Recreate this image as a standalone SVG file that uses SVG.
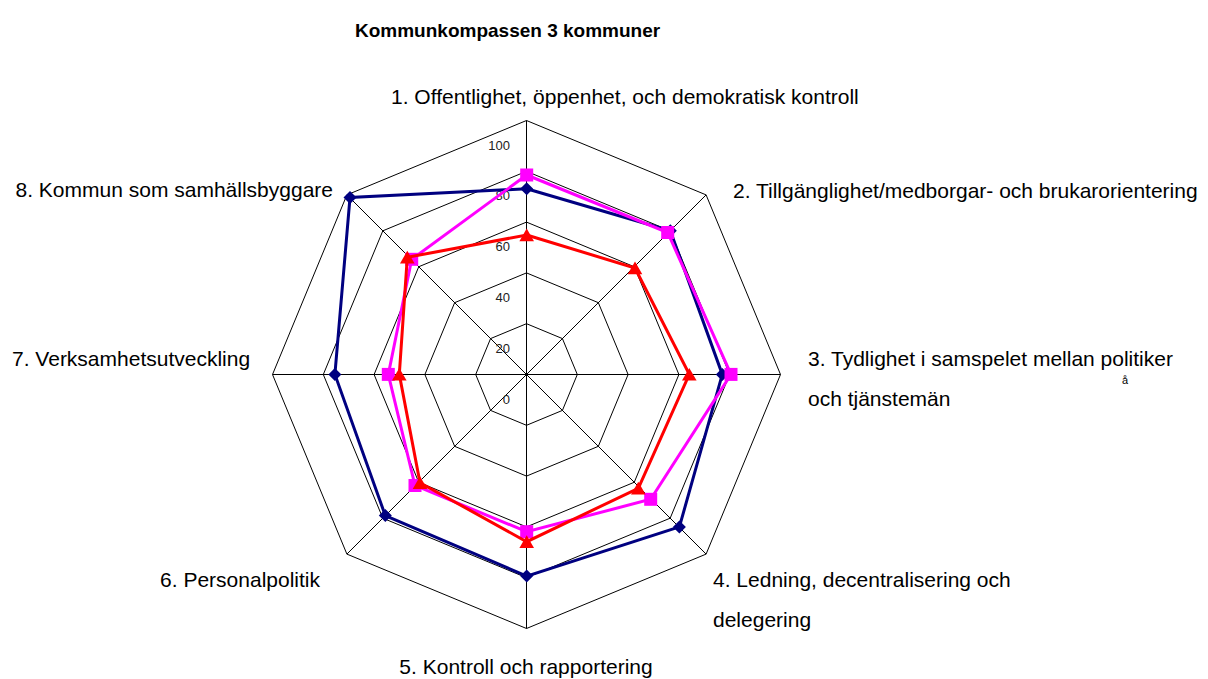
<svg xmlns="http://www.w3.org/2000/svg" width="1208" height="679" viewBox="0 0 1208 679">
<style>
.grid{fill:none;stroke:#000;stroke-width:1}
.lbl{font-family:"Liberation Sans",Arial,sans-serif;font-size:21px;fill:#000}
.tick{font-family:"Liberation Sans",Arial,sans-serif;font-size:13px;fill:#222;text-anchor:end}
.title{font-family:"Liberation Sans",Arial,sans-serif;font-size:19px;font-weight:bold;fill:#000}
.s{fill:none;stroke-width:3;stroke-linejoin:miter}
</style>
<defs>
<marker id="mDia" viewBox="-7 -7 14 14" refX="0" refY="0" markerWidth="14" markerHeight="14" markerUnits="userSpaceOnUse">
<path d="M0,-6.5 L6.5,0 L0,6.5 L-6.5,0 Z" fill="#000080"/>
</marker>
<marker id="mSq" viewBox="-7 -7 14 14" refX="0" refY="0" markerWidth="14" markerHeight="14" markerUnits="userSpaceOnUse">
<rect x="-6.5" y="-6.5" width="13" height="13" fill="#FF00FF"/>
</marker>
<marker id="mTri" viewBox="-8 -8 16 16" refX="0" refY="0" markerWidth="16" markerHeight="16" markerUnits="userSpaceOnUse">
<path d="M0,-6.5 L7.3,6.2 L-7.3,6.2 Z" fill="#FF0000"/>
</marker>
</defs>
<rect width="1208" height="679" fill="#fff"/>
<text class="title" x="355" y="36.5">Kommunkompassen 3 kommuner</text>
<g id="grid">
<polygon class="grid" points="526.5,323.7 562.42,338.58 577.3,374.5 562.42,410.42 526.5,425.3 490.58,410.42 475.7,374.5 490.58,338.58"/>
<polygon class="grid" points="526.5,272.9 598.34,302.66 628.1,374.5 598.34,446.34 526.5,476.1 454.66,446.34 424.9,374.5 454.66,302.66"/>
<polygon class="grid" points="526.5,222.1 634.26,266.74 678.9,374.5 634.26,482.26 526.5,526.9 418.74,482.26 374.1,374.5 418.74,266.74"/>
<polygon class="grid" points="526.5,171.3 670.18,230.82 729.7,374.5 670.18,518.18 526.5,577.7 382.82,518.18 323.3,374.5 382.82,230.82"/>
<polygon class="grid" points="526.5,120.5 706.1,194.9 780.5,374.5 706.1,554.1 526.5,628.5 346.9,554.1 272.5,374.5 346.9,194.9"/>
<path class="grid" d="M526.5,374.5 L526.5,120.5 M526.5,374.5 L706.1,194.9 M526.5,374.5 L780.5,374.5 M526.5,374.5 L706.1,554.1 M526.5,374.5 L526.5,628.5 M526.5,374.5 L346.9,554.1 M526.5,374.5 L272.5,374.5 M526.5,374.5 L346.9,194.9"/>
</g>
<g id="ticks">
<text class="tick" x="510" y="149.5">100</text>
<text class="tick" x="510" y="200.3">80</text>
<text class="tick" x="510" y="251.1">60</text>
<text class="tick" x="510" y="301.9">40</text>
<text class="tick" x="510" y="352.7">20</text>
<text class="tick" x="510" y="403.5">0</text>
</g>
<g id="series">
<polygon id="series-navy" class="s" stroke="#000080" marker-start="url(#mDia)" marker-mid="url(#mDia)" points="526.7,188.8 670.3,230.7 722.3,374.4 679.4,526.9 526.7,576.1 385.3,515.6 334.9,374.4 350,197.5"/>
<polygon id="series-pink" class="s" stroke="#FF00FF" marker-start="url(#mSq)" marker-mid="url(#mSq)" points="526.7,175 667.7,232.5 731,374.4 650.7,499.3 526.7,531.7 415,485.5 388.3,374.4 411.7,259.3"/>
<polygon id="series-red" class="s" stroke="#FF0000" marker-start="url(#mTri)" marker-mid="url(#mTri)" points="526.7,235 635,268 689.3,374.4 638.3,488.3 526.7,541.7 420,482.7 399.3,374.4 407.3,257.3"/>
</g>
<g id="axis-labels">
<g id="axis1"><text class="lbl" x="391" y="104">1. Offentlighet, öppenhet, och demokratisk kontroll</text></g>
<g id="axis2"><text class="lbl" x="733" y="198">2. Tillgänglighet/medborgar- och brukarorientering</text></g>
<g id="axis3"><text class="lbl" x="808" y="366">3. Tydlighet i samspelet mellan politiker</text>
<text class="lbl" x="808" y="406">och tjänstemän</text>
<text x="1122" y="384" font-family="Liberation Sans, Arial, sans-serif" font-size="11">å</text></g>
<g id="axis4"><text class="lbl" x="713" y="587">4. Ledning, decentralisering och</text>
<text class="lbl" x="713" y="627">delegering</text></g>
<g id="axis5"><text class="lbl" x="526" y="674" text-anchor="middle">5. Kontroll och rapportering</text></g>
<g id="axis6"><text class="lbl" x="320" y="587" text-anchor="end">6. Personalpolitik</text></g>
<g id="axis7"><text class="lbl" x="12" y="366">7. Verksamhetsutveckling</text></g>
<g id="axis8"><text class="lbl" x="333" y="197" text-anchor="end">8. Kommun som samhällsbyggare</text></g>
</g>
</svg>
